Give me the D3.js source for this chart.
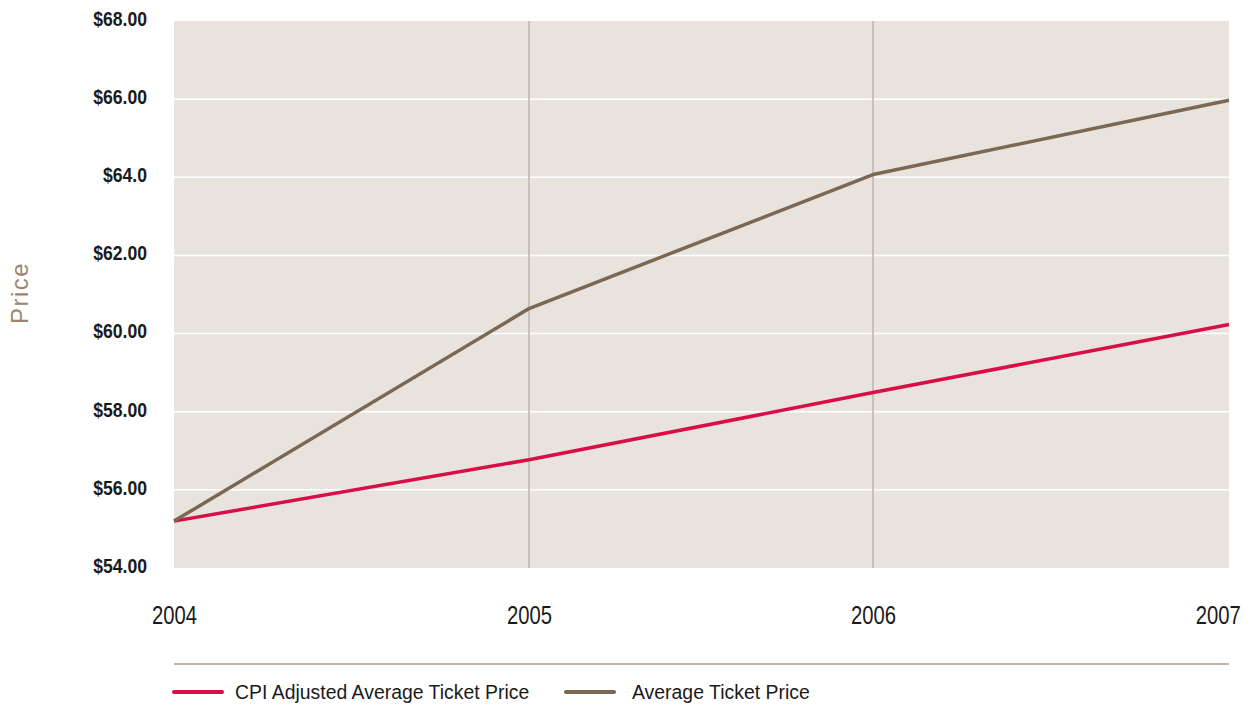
<!DOCTYPE html>
<html>
<head>
<meta charset="utf-8">
<script src="https://cdn.jsdelivr.net/npm/d3@7"></script>
<style>
  body { margin: 0; background: #fff; }
  text { font-family: "Liberation Sans", Arial, sans-serif; }
</style>
</head>
<body>
<div id="chart"></div>
<script>
const years = [2004, 2005, 2006, 2007];
const cpiAdjusted = [55.2, 56.77, 58.49, 60.23];
const averagePrice = [55.2, 60.64, 64.07, 65.97];
const yTicks = [54, 56, 58, 60, 62, 64, 66, 68];
const yTickLabels = ["$54.00", "$56.00", "$58.00", "$60.00", "$62.00", "$64.0", "$66.00", "$68.00"];
const seriesNames = ["CPI Adjusted Average Ticket Price", "Average Ticket Price"];
const seriesColors = ["#d90d48", "#7b6852"];

let width = 1252;
let height = 706;
let margin = { left: 174, right: 23, top: 21, bottom: 138 };

let svg = d3.select("#chart")
  .append("svg")
  .attr("width", width)
  .attr("height", height);

// the source spaces its year columns slightly unevenly
let x = d3.scaleLinear()
  .domain(years)
  .range([margin.left, 529, 873, width - margin.right]);

let y = d3.scaleLinear()
  .domain([54, 68])
  .range([height - margin.bottom, margin.top]);

// plot background
svg.append("rect")
  .attr("x", x(2004))
  .attr("y", y(68))
  .attr("width", x(2007) - x(2004))
  .attr("height", y(54) - y(68))
  .attr("fill", "#e8e3dd");

// horizontal grid
svg.append("g")
  .selectAll("line")
  .data(yTicks.filter(d => d > 54 && d < 68))
  .enter().append("line")
  .attr("x1", x(2004))
  .attr("x2", x(2007))
  .attr("y1", d => y(d))
  .attr("y2", d => y(d))
  .attr("stroke", "#fff")
  .attr("stroke-width", 1.5);

// vertical grid (inner years only)
svg.append("g")
  .selectAll("line")
  .data(years.slice(1, -1))
  .enter().append("line")
  .attr("x1", d => x(d))
  .attr("x2", d => x(d))
  .attr("y1", y(68))
  .attr("y2", y(54))
  .attr("stroke", "#c9c1b8")
  .attr("stroke-width", 2);

// y axis labels (squeezed to look condensed)
let yAxis = d3.axisLeft(y)
  .tickValues(yTicks)
  .tickSize(0)
  .tickPadding(0)
  .tickFormat((d, i) => yTickLabels[i]);

svg.append("g")
  .attr("transform", "translate(147,-2)")
  .call(yAxis)
  .call(g => g.select(".domain").remove())
  .call(g => g.selectAll("text")
    .attr("transform", "scale(0.88,1)")
    .attr("font-family", "'Liberation Sans', sans-serif")
    .attr("font-weight", "bold")
    .attr("font-size", 20)
    .attr("fill", "#1a1a1a"));

// x axis labels
let xAxis = d3.axisBottom(x)
  .tickValues(years)
  .tickSize(0)
  .tickPadding(0)
  .tickFormat(d3.format("d"));

svg.append("g")
  .attr("transform", "translate(0,606)")
  .call(xAxis)
  .call(g => g.select(".domain").remove())
  .call(g => g.selectAll("text")
    .attr("transform", "scale(0.81,1)")
    .attr("text-anchor", d => d === 2007 ? "end" : "middle")
    .attr("x", d => d === 2007 ? 14 : 0)
    .attr("font-family", "'Liberation Sans', sans-serif")
    .attr("font-size", 25)
    .attr("fill", "#1a1a1a"));

// y axis title
svg.append("text")
  .attr("transform", "translate(28,293) rotate(-90)")
  .attr("text-anchor", "middle")
  .attr("font-size", 24)
  .attr("letter-spacing", 1.5)
  .attr("fill", "#9c8670")
  .text("Price");

// lines
let line = d3.line()
  .x((d, i) => x(years[i]))
  .y(d => y(d));

[cpiAdjusted, averagePrice].forEach((values, i) => {
  svg.append("path")
    .datum(values)
    .attr("d", line)
    .attr("fill", "none")
    .attr("stroke", seriesColors[i])
    .attr("stroke-width", 3.5)
    .attr("stroke-linejoin", "round");
});

// separator
svg.append("line")
  .attr("x1", x(2004))
  .attr("x2", x(2007))
  .attr("y1", 664)
  .attr("y2", 664)
  .attr("stroke", "#bdb3a9")
  .attr("stroke-width", 2);

// legend
let legendX = [174, 566];
let legendTextX = [61, 66];
let legend = svg.append("g")
  .selectAll("g")
  .data(seriesNames)
  .enter().append("g")
  .attr("transform", (d, i) => "translate(" + legendX[i] + ",692)");

legend.append("line")
  .attr("x1", 0)
  .attr("x2", 48)
  .attr("stroke", (d, i) => seriesColors[i])
  .attr("stroke-width", 4)
  .attr("stroke-linecap", "round");

legend.append("text")
  .attr("transform", (d, i) => "translate(" + legendTextX[i] + ",0) scale(0.925,1)")
  .attr("dy", "0.35em")
  .attr("font-size", 21)
  .attr("fill", "#1a1a1a")
  .text(d => d);
</script>
</body>
</html>
